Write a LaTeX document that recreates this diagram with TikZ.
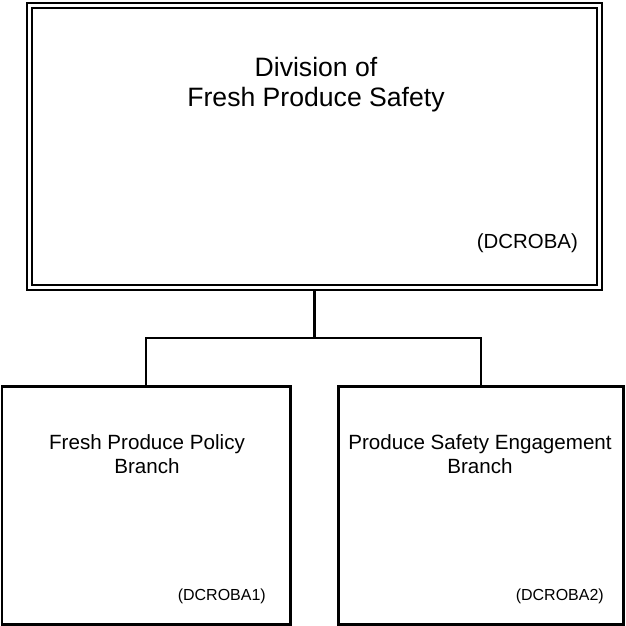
\documentclass[tikz,border=0pt]{standalone}
\usepackage{fontspec}
\setmainfont{Liberation Sans}
\begin{document}
\begin{tikzpicture}[x=1pt,y=-1pt,
  box/.style={draw,line width=2.3pt,inner sep=0pt,minimum width=#1},
  topbox/.style={draw,double,line width=2.2pt,double distance=2.8pt,inner sep=0pt,minimum width=570pt,minimum height=282pt},
  conn/.style={line width=2.2pt},
  lbl/.style={inner sep=0pt,anchor=base}]
\useasboundingbox (0,0) rectangle (625,626);
\node[topbox] (top) at (314.5,146.5) {};
\node[box=288.5pt,minimum height=238pt] (left) at (146.25,505.5) {};
\node[box=285pt,minimum height=238pt] (right) at (481,505.5) {};
\coordinate (j) at (314.5,338.3);
\draw[conn,shorten <=2.4pt] (top.south) -- (j);
\draw[conn] (left.north) |- (j) -| (right.north);
% texts
\node[lbl,font=\fontsize{26.6pt}{30pt}\selectfont] (t1) at (316,76) {Division of};
\node[lbl,font=\fontsize{26.6pt}{30pt}\selectfont] (t2) at (316,106) {Fresh Produce Safety};
\node[lbl,anchor=base east,font=\fontsize{20.4pt}{24pt}\selectfont] (tc) at (578,248) {(DCROBA)};
\node[lbl,font=\fontsize{20.6pt}{24pt}\selectfont] (l1) at (147,449) {Fresh Produce Policy};
\node[lbl,font=\fontsize{20.6pt}{24pt}\selectfont] (l2) at (147,473.5) {Branch};
\node[lbl,anchor=base east,font=\fontsize{16pt}{19pt}\selectfont] (lc) at (266,600) {(DCROBA1)};
\node[lbl,font=\fontsize{20.6pt}{24pt}\selectfont] (r1) at (480,449) {Produce Safety Engagement};
\node[lbl,font=\fontsize{20.6pt}{24pt}\selectfont] (r2) at (480,473.5) {Branch};
\node[lbl,anchor=base east,font=\fontsize{16pt}{19pt}\selectfont] (rc) at (604,600) {(DCROBA2)};
\end{tikzpicture}
\end{document}
